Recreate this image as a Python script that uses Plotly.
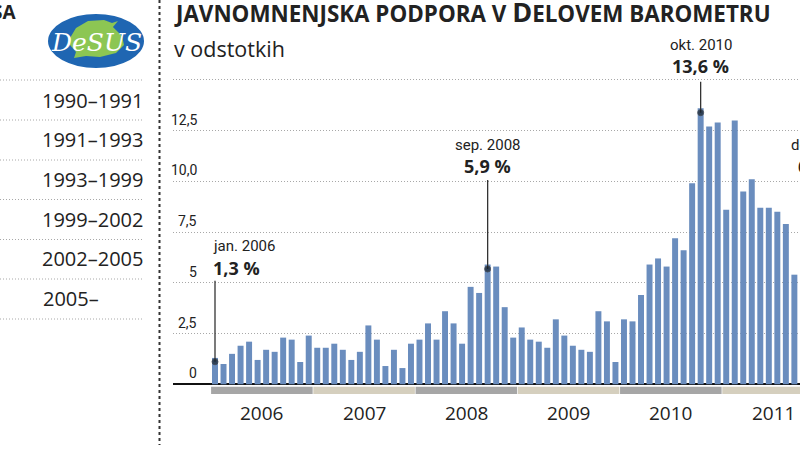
import plotly.graph_objects as go

years = ['2006', '2007', '2008', '2009', '2010', '2011']
values = [1.3, 1.0, 1.5, 1.9, 2.1, 1.2, 1.7, 1.6, 2.3, 2.2, 1.1, 2.4,
          1.8, 1.8, 2.0, 1.7, 1.2, 1.6, 2.9, 2.2, 0.9, 1.7, 0.8, 2.0,
          2.2, 3.0, 2.2, 3.6, 3.0, 2.0, 4.8, 4.5, 5.9, 5.8, 3.8, 2.3,
          2.8, 2.2, 2.1, 1.8, 3.2, 2.4, 1.9, 1.7, 1.6, 3.6, 3.1, 1.1,
          3.2, 3.1, 4.4, 5.9, 6.2, 5.8, 7.2, 6.6, 9.9, 13.6, 12.7, 12.9,
          8.6, 13.0, 9.5, 10.1, 8.7, 8.7, 8.5, 7.9, 5.4]
grid_vals = [2.5, 5, 7.5, 10, 12.5, 15]
tick_vals = [0, 2.5, 5, 7.5, 10, 12.5]
tick_text = ['0', '2,5', '5', '7,5', '10,0', '12,5']

periods = ['1990–1991', '1991–1993', '1993–1999', '1999–2002', '2002–2005', '2005–']
row_lines = [80, 120, 160, 199.5, 239.5, 279, 319]

call_idx = [0, 32, 57]
call_dot = [1.11, 5.68, 13.38]
call_top = [5.1, 10.06, 14.9]
call_when = ['jan. 2006', 'sep. 2008', 'okt. 2010']
call_val = ['1,3 %', '5,9 %', '13,6 %']
call_when_y = [246, 145, 45]
call_val_y = [268, 166, 66]

BAR = '#6A8DBE'
INK = '#222222'
GRID = '#a8a8a8'
SANS = 'Open Sans'
NARROW = 'Roboto'


def px(x, y):
    return x / 800, 1 - y / 450


def label(text, x, y, size, family=SANS, anchor='left', color=INK, **kw):
    fx, fy = px(x, y)
    fig.add_annotation(text=text, xref='paper', yref='paper', x=fx, y=fy, xanchor=anchor, yanchor='middle',
                       showarrow=False, borderpad=0, font=dict(family=family, size=size, color=color, **kw))


def paper_path(points):
    out = []
    for i, (x, y) in enumerate(points):
        fx, fy = px(x, y)
        out.append(('M' if i == 0 else 'L') + f'{fx:.4f},{fy:.4f}')
    return ' '.join(out) + ' Z'


fig = go.Figure()
fig.add_trace(go.Bar(x=list(range(len(values))), y=values, width=0.7, marker_color=BAR,
                     marker_line_width=0, showlegend=False))

for i, dot, top in zip(call_idx, call_dot, call_top):
    fig.add_trace(go.Scatter(x=[i, i], y=[top, dot], mode='lines+markers', showlegend=False, cliponaxis=False,
                             line=dict(color='#333333', width=1.3),
                             marker=dict(size=[0, 6], color='#15202b')))

fig.update_layout(
    width=800, height=450, margin=dict(l=0, r=0, t=0, b=0),
    plot_bgcolor='white', paper_bgcolor='white', showlegend=False,
    xaxis=dict(domain=[173 / 800, 1], range=[-4.93, 68.66], showgrid=False, zeroline=False,
               showticklabels=False, ticks=''),
    yaxis=dict(domain=[0, 1], range=[-3.236, 18.93], tickmode='array', tickvals=grid_vals,
               showticklabels=False, ticks='', showgrid=True, gridcolor=GRID, griddash='1px,2px', gridwidth=1,
               zeroline=True, zerolinecolor='#111111', zerolinewidth=1.6),
)

# year strip below the axis
for k, year in enumerate(years):
    fig.add_shape(type='rect', xref='x', yref='y', x0=12 * k - 0.46, x1=12 * k + 11.46, y0=-0.48, y1=-0.12,
                  line_width=0, fillcolor='#A6A6A6' if k % 2 == 0 else '#D5CFBE')
    fig.add_annotation(text=year, xref='x', yref='paper', x=12 * k + 5.5, y=1 - 413 / 450, yanchor='middle',
                       showarrow=False, font=dict(family=SANS, size=19, color=INK))

for val, text in zip(tick_vals, tick_text):
    fig.add_annotation(text=text, xref='paper', yref='y', x=198 / 800, y=val, yshift=11, xanchor='right',
                       showarrow=False, borderpad=0, font=dict(family=NARROW, size=14, color=INK))

# left column
fx0, fy0 = px(159.5, 0)
fx1, fy1 = px(159.5, 445)
fig.add_shape(type='line', xref='paper', yref='paper', x0=fx0, x1=fx1, y0=fy0, y1=fy1,
              line=dict(color='#333333', width=2, dash='dot'))
for y in row_lines:
    fig.add_shape(type='line', xref='paper', yref='paper', x0=0, x1=144 / 800, y0=1 - y / 450, y1=1 - y / 450,
                  line=dict(color=GRID, width=1, dash='1px,2px'))
for i, text in enumerate(periods):
    if text.endswith('–'):
        label(text, 42, 100 + i * 39.7, 20)
    else:
        label(text, 144, 100 + i * 39.7, 20, anchor='right')
label('SA', 17, 12, 19, anchor='right', weight='bold')

# logo
lx0, ly0 = px(48, 14)
lx1, ly1 = px(144, 68)
fig.add_shape(type='circle', xref='paper', yref='paper', x0=lx0, x1=lx1, y0=ly0, y1=ly1,
              line_width=0, fillcolor='#1F66B2')
leaf = [(70, 38), (76, 28), (88, 21), (104, 20), (112, 23), (118, 21), (113, 27), (122, 36), (124, 45),
        (116, 53), (100, 57), (86, 56), (74, 58), (76, 52), (70, 45)]
fig.add_shape(type='path', xref='paper', yref='paper', path=paper_path(leaf), line_width=0, fillcolor='#8CC653')
label('DeSUS', 96, 42, 25, family='DejaVu Serif', anchor='center', color='white', style='italic')

# title
label('JAVNOMNENJSKA PODPORA V <span style="font-size:27px">D</span>ELOVEM BAROMETRU', 173, 12, 22.4,
      weight='bold')
label('v odstotkih', 173, 48, 21.5)

# callouts
for i, when, val, wy, vy in zip(call_idx, call_when, call_val, call_when_y, call_val_y):
    if i == 0:
        label(when, 212, wy, 15, family=NARROW)
        label(val, 212, vy, 18, weight='bold')
    else:
        cx = 215 + 8.52 * i
        label(when, cx, wy, 15, family=NARROW, anchor='center')
        label(val, cx, vy, 18, weight='bold', anchor='center')
label('dec. 2011', 790, 145, 15, family=NARROW)
label('6,6 %', 797, 166, 18, weight='bold')

fig.write_html('out.html', config=dict(displayModeBar=False),
               post_script="document.body.style.margin='0';document.documentElement.style.overflow='hidden';")
